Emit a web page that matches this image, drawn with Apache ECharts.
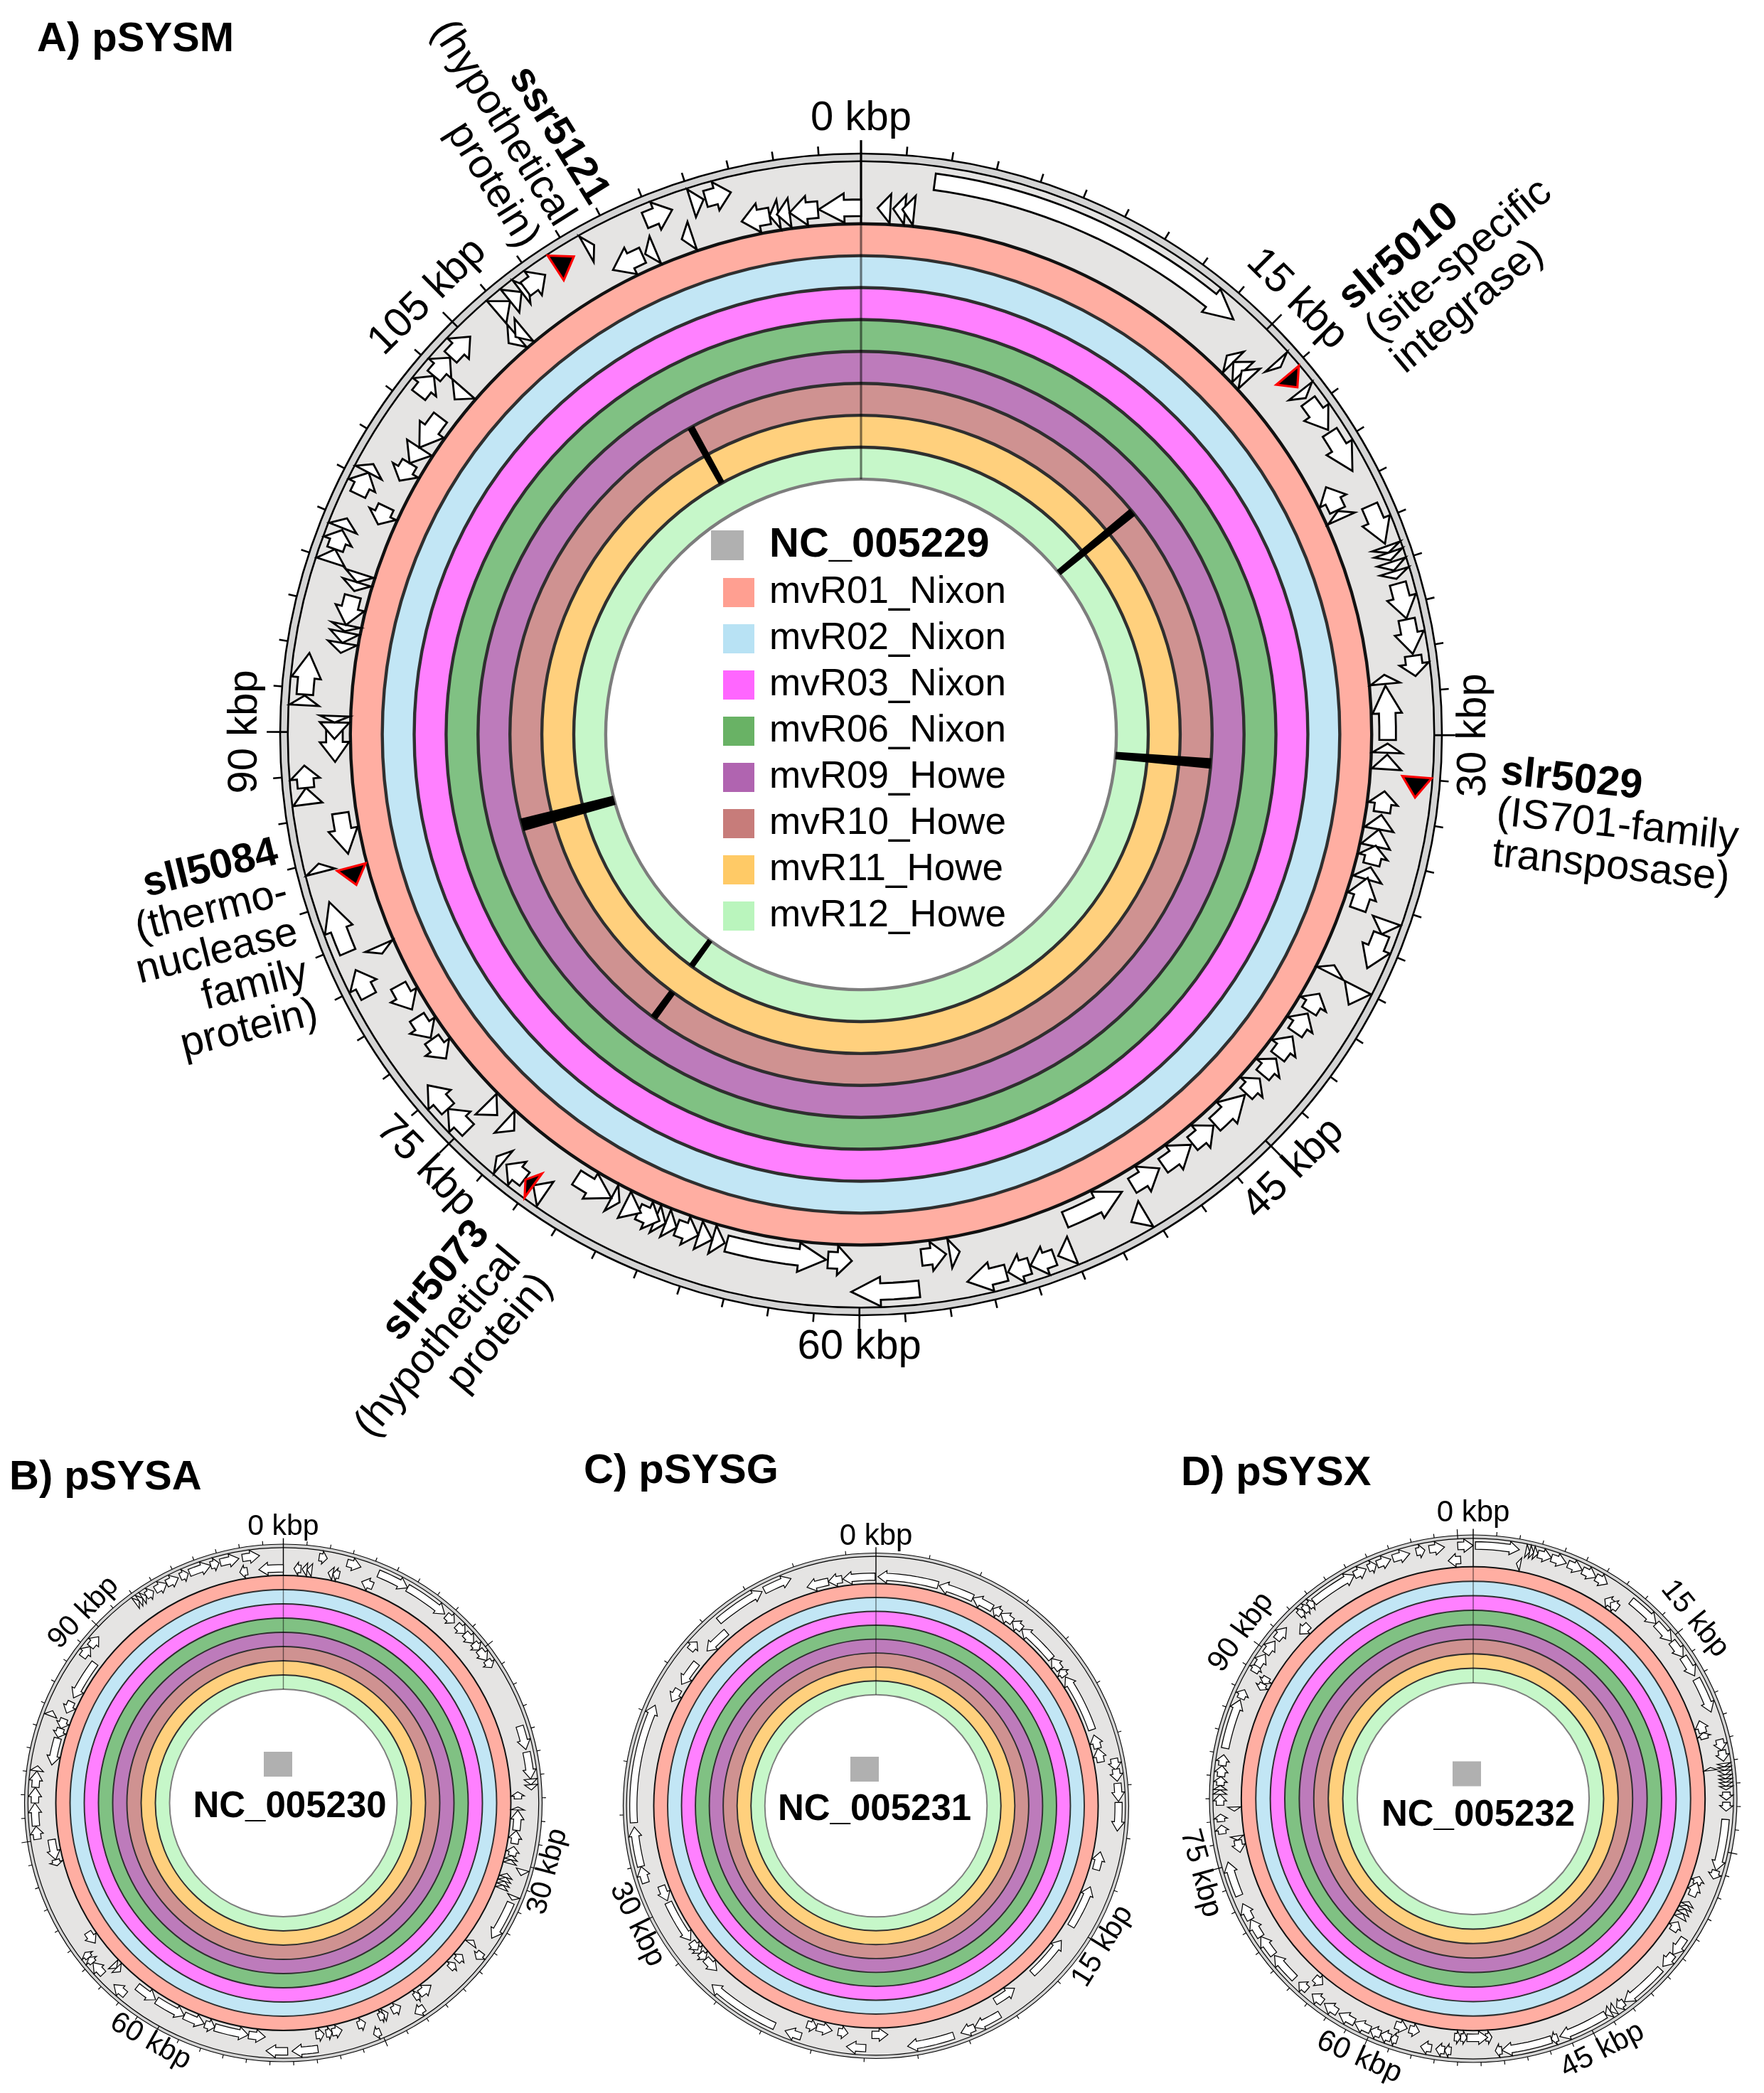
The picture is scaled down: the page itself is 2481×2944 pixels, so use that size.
<!DOCTYPE html>
<html><head><meta charset="utf-8">
<style>html,body{margin:0;padding:0;background:#fff}#c{width:2481px;height:2944px}</style>
<script src="https://cdn.jsdelivr.net/npm/echarts@6/dist/echarts.min.js"></script>
</head><body><div id="c"></div>
<script>
// ---------- data ----------
const ringNames = ['mvR01_Nixon','mvR02_Nixon','mvR03_Nixon','mvR06_Nixon','mvR09_Howe','mvR10_Howe','mvR11_Howe','mvR12_Howe'];
const ringColors = ['#ffaea2','#c2e6f5','#ff80ff','#80c183','#bd7bbb','#cf9291','#ffd07d','#c6f7c9'];
const legendColors = ['#ff9f91','#b8e2f4','#ff66ff','#69b265','#b064b0','#c77c7a','#ffca66','#baf5bd'];

// gene extents, as clockwise positions on the circle in degrees (start, end)
const pSYSM_forward = [[7.6,41.9],[48.1,48.8],[52,52.9],[53.3,56.9],[57.2,61.8],[65.8,70],[70.3,71],[71,71.8],[72,72.9],[73,73.8],[74.3,78],[78.1,81.7],[81.9,84],[109.5,111],[111,114.8],[117,119],[149.3,151],[157.7,159.3],[159.7,162.3],[162.4,164.7],[164.9,169],[174,181],[214.5,216],[217.1,219.5],[219.9,220.8],[224.8,227.8],[227.8,231],[242,245],[247,252.5],[255.7,256.6],[262.8,264.5],[264.5,266.8],[273,274],[274.1,278.4],[288,289.4],[289.4,291.5],[291.7,292.8],[295.5,298],[298,299],[307.5,310],[310,312.5],[312.6,315.5],[319.2,321],[321,322.5],[322.5,323.4],[323,325.5],[330.5,331.4],[337.2,340.2],[342.3,343.6],[343.8,346.5]];
const pSYSM_reverse = [[1.8,3.2],[3.5,4.8],[4.5,5.8],[44,45],[45,46.5],[46.3,47.5],[62,64.8],[64.9,65.8],[83.5,84.5],[84.7,90.6],[91,92],[92.2,93.8],[96.2,98.5],[98.8,100.4],[100.4,102.3],[102.2,104.3],[104.6,106],[105.8,109.4],[116,117],[119.5,121.7],[122,124.5],[125,127.7],[128,130.3],[130.8,133],[133.2,137.8],[138,141],[141.2,145],[145.5,149],[150.3,157.2],[169.2,170.3],[170.7,173.4],[181,183.6],[183.8,194.8],[195,196.4],[196.4,198],[198,200.5],[200.5,201.8],[201.8,203],[202.5,205],[204.7,206.7],[207.3,208.3],[208.3,212.7],[221.2,222.6],[223.7,225.4],[232,234.6],[234.8,237.5],[238.5,241.5],[245.4,246.3],[256.9,261.4],[267,270.6],[269.5,271.3],[271.3,272],[278.9,280],[280,281.2],[281.3,282],[282,285.2],[285.8,286.8],[286.8,287.8],[293.5,295.6],[298.8,301],[301,303],[303,307],[309.5,311],[318,319.2],[319,320.2],[331.9,335.5],[335.8,337],[340.1,341.3],[346.9,350],[350,351],[350.8,352.2],[352.2,355.3],[355.4,360]];
const pSYSM_hitForward = [[49.9,51.5],[94.4,96.5],[216,217],[326.8,329]];
const pSYSM_hitReverse = [[253.4,255.4]];
// deletions: start deg, end deg, inner ring position, outer ring position
const pSYSM_gaps = [[50,51.4,8,11],[93.9,95.6,8,11],[254,256.1,8,11],[215.6,216.8,8,9],[215.6,216.8,10,11],[330.4,331.6,9,11]];

const pSYSA_forward = [[8.3,10.2],[14.9,18.2],[22.5,30],[30,40.5],[41,43.5],[44.3,47],[47,50],[50,52],[52,55],[55,57],[72,77.6],[78.2,84.5],[84.5,85.8],[85.8,87],[105.6,107],[112,113],[113.7,123],[127,129],[145.5,148],[157,158.7],[172,178],[179,184],[219.5,223],[226.5,230],[230,231.5],[231.5,233],[261.6,264.6],[264.7,270],[270,273.6],[273.6,277.4],[277.4,278.6],[290.5,291.8],[306,309],[309,312],[323.5,324.5],[324.5,325.5],[325.5,326.5],[326.5,328.5],[329,332],[332,335],[335.5,337.5],[337.8,343],[343,345],[345.3,349.7],[350.5,354.5]];
const pSYSA_reverse = [[2.6,4.3],[4.6,5.8],[5.8,7],[11,12.2],[12.2,13.8],[19.5,22.4],[87.3,89],[91,91.7],[91.8,96.7],[96.8,100],[100.7,103],[103,104],[104,105],[107.5,108.5],[108.5,109.5],[109.5,110.5],[110.5,111.5],[125.8,127],[130.3,132.3],[133,134.8],[141,144.5],[144.5,146],[150,152.4],[153.5,154.7],[154.5,156],[159.5,161.5],[165.5,168],[168,169.5],[170,172],[184.4,188.5],[188.6,197],[197,199.5],[199.7,205],[205,212.7],[213,218.5],[224,225.3],[225.3,226.5],[233.3,236.5],[254.5,256],[256,261],[279.3,286],[286.2,288.5],[288.5,291],[292.5,295.5],[296.6,306.6],[349.3,351.2],[354,360]];

const pSYSG_forward = [[78.8,81.5],[81.3,84.2],[84.7,89],[89.2,96],[149.3,156],[156,159.5],[161.3,172.5],[182.4,187],[198,202],[204.7,222.5],[251.5,255.5],[255.5,265],[266,294.5],[310,312.5],[319.6,332],[332.6,339.5]];
const pSYSG_reverse = [[0.5,15.7],[16,25],[25,30.5],[30.7,33],[33,36.5],[36.5,39.5],[39.5,50],[50,53.5],[53.5,55.5],[55.8,70.6],[72,75.5],[75.5,79],[101.6,106.2],[110.7,121.7],[126,137],[142.8,148.7],[177,181],[187,189.5],[191,195],[195,197.5],[224,228],[228,230],[230,232],[231,233.5],[234,245],[245.5,249.5],[297,300.5],[302,308.5],[312.5,319.3],[342.5,348],[348,351.5],[351.7,359.8]];

const pSYSX_forward = [[356.5,360],[0.5,10.5],[12,12.9],[12.9,13.8],[13.8,14.8],[14.8,18],[18,21.6],[22,25.5],[25.6,29],[29,32],[38.6,46.2],[46.3,51.5],[51.7,56],[56,61],[61.8,70],[76.5,79],[79,81.5],[82,82.8],[82.8,83.6],[83.6,84.6],[84.6,85.5],[85.5,86.3],[86.3,87.2],[87.2,88],[88.5,90.3],[90.8,92.8],[94.7,106.5],[106.5,108.5],[123.5,128],[128,131.5],[132.3,143.3],[143.5,145.5],[146,147.2],[147.2,148.5],[148.5,160],[160.5,162],[162,173.5],[173.5,175],[185,186.5],[186.5,188.5],[189.5,192],[197.5,199],[199,201.5],[201.5,204],[204,208],[208,212],[212.5,216],[216.5,219.5],[221,223.5],[224.8,231.7],[232,237],[237,241.5],[241.5,245.5],[247.5,255.5],[262,264],[264.8,266.5],[268.5,271],[271,272],[272,273],[273,275],[275,277.5],[277.5,280],[281.5,293],[293.3,295.5],[300,302],[301.5,304.8],[305,308.5],[309,312.5],[316.5,318],[318,319.5],[319.5,321],[321,332],[332,335],[335.5,337.5],[337.7,341],[341.5,345.5],[347,349],[350,353.5]];
const pSYSX_reverse = [[10.4,11.4],[33.4,35.6],[35,37.2],[71,74],[74,75.5],[82.5,83.2],[109,111],[110.5,114],[115.5,116.5],[116.5,117.5],[117.5,118.7],[118.7,120],[121,123.5],[175.5,177],[176.5,181.5],[181.5,183],[183,184.5],[193,195.5],[196,199],[219,221.5],[257,260],[260,261],[267,268],[297,298.7],[298.7,300.5],[313.5,316.5],[354,357]];

const pSYSM_tickLabels = [0,15,30,45,60,75,90,105];
const pSYSA_tickLabels = [0,30,60,90];
const pSYSG_tickLabels = [0,15,30];
const pSYSX_tickLabels = [0,15,45,60,75,90];

// gene callouts on the main circle
const calloutGenes = ['slr5010','slr5029','sll5084','slr5073','ssr5121'];
const calloutProducts = [['(site-specific','integrase)'],['(IS701-family','transposase)'],['(thermo-','nuclease','family','protein)'],['(hypothetical','protein)'],['(hypothetical','protein)']];
const calloutAngles = [51.6,96.9,251.3,214.8,329.6];
const calloutRadii = [23.9,23.87,21.3,23.2,22.2];
const calloutTilt = [40,-6,14,50,-58];
const calloutAlign = ['left','left','right','right','right'];

// ---------- panels ----------
const FONT = '"Liberation Sans", Arial, Helvetica, sans-serif';
const panels = [
 {title:'A) pSYSM',acc:'NC_005229',L:119.895,cx:1211,cy:1033,R:817,head:3,tickFont:58,tickR:19.25,ticks:pSYSM_tickLabels,fwd:pSYSM_forward,rev:pSYSM_reverse,hitF:pSYSM_hitForward,hitR:pSYSM_hitReverse,gaps:pSYSM_gaps},
 {title:'B) pSYSA',acc:'NC_005230',L:103.307,cx:398.5,cy:2536,R:364,head:2.2,tickFont:41,tickR:19.3,ticks:pSYSA_tickLabels,fwd:pSYSA_forward,rev:pSYSA_reverse,hitF:[],hitR:[],gaps:[]},
 {title:'C) pSYSG',acc:'NC_005231',L:44.343,cx:1232,cy:2540,R:355.5,head:2.2,tickFont:42,tickR:19.3,ticks:pSYSG_tickLabels,fwd:pSYSG_forward,rev:pSYSG_reverse,hitF:[],hitR:[],gaps:[]},
 {title:'D) pSYSX',acc:'NC_005232',L:106.004,cx:2072,cy:2530,R:371,head:2.2,tickFont:42,tickR:19.6,ticks:pSYSX_tickLabels,fwd:pSYSX_forward,rev:pSYSX_reverse,hitF:[],hitR:[],gaps:[]}
];
const AXIS_MAX = 26, TRACK_RIM = 18.2;

const polar = [], radiusAxis = [], angleAxis = [], series = [];

panels.forEach((p, pi) => {
  const unit = p.R / TRACK_RIM;
  const lw = unit / 44.9;
  const toKb = d => d / 360 * p.L;
  polar.push({center:[p.cx, p.cy], radius:[0, unit * AXIS_MAX]});
  radiusAxis.push({polarIndex:pi, type:'value', min:0, max:AXIS_MAX, show:false});
  angleAxis.push({polarIndex:pi, type:'value', min:0, max:p.L, startAngle:90, clockwise:true, show:false});
  const base = {type:'custom', coordinateSystem:'polar', polarIndex:pi, silent:true, animation:false, encode:{radius:0, angle:1}};
  const rad = (api, params, r) => { const q = api.coord([r, 0]); return Math.hypot(q[0]-params.coordSys.cx, q[1]-params.coordSys.cy); };
  const full = {startAngle:0, endAngle:Math.PI*2};

  // gene track background + rim
  series.push(Object.assign({}, base, {name:'track', data:[[16, 17.96, TRACK_RIM]],
    renderItem:(params, api) => {
      const cx = params.coordSys.cx, cy = params.coordSys.cy;
      const a = rad(api, params, api.value(0)), b = rad(api, params, api.value(1)), c = rad(api, params, api.value(2));
      return {type:'group', children:[
        {type:'sector', shape:Object.assign({cx, cy, r:c, r0:b}, full), style:{fill:'#d4d4d4', stroke:null}},
        {type:'sector', shape:Object.assign({cx, cy, r:b, r0:a}, full), style:{fill:'#e5e4e3', stroke:null}},
        {type:'circle', shape:{cx, cy, r:c}, style:{fill:null, stroke:'#000', lineWidth:2.6*lw}},
        {type:'circle', shape:{cx, cy, r:b}, style:{fill:null, stroke:'#000', lineWidth:2.6*lw}}
      ]};
    }}));

  // coverage rings
  ringNames.forEach((name, i) => {
    series.push(Object.assign({}, base, {name, itemStyle:{color:ringColors[i]}, data:[[15-i, 16-i]],
      renderItem:(params, api) => {
        const cx = params.coordSys.cx, cy = params.coordSys.cy;
        const r0 = rad(api, params, api.value(0)), r = rad(api, params, api.value(1));
        const kids = [
          {type:'sector', shape:Object.assign({cx, cy, r, r0}, full), style:{fill:ringColors[i], stroke:null}},
          {type:'circle', shape:{cx, cy, r}, style:{fill:null, stroke: i===0 ? '#111' : '#2f2f2f', lineWidth:4.4*lw}}
        ];
        if (i === ringNames.length-1) kids.push({type:'circle', shape:{cx, cy, r:r0}, style:{fill:null, stroke:'#7d7d7d', lineWidth:4.4*lw}});
        return {type:'group', children:kids};
      }}));
  });

  // deletions
  if (p.gaps.length) series.push(Object.assign({}, base, {name:'gaps', data:p.gaps.map(g => [g[2], toKb(g[0]), toKb(g[1]), g[3]]),
    renderItem:(params, api) => {
      const i0 = api.value(0), i1 = api.value(3), a = api.value(1), b = api.value(2);
      return {type:'polygon', shape:{points:[api.coord([i0,a]), api.coord([i1,a]), api.coord([i1,b]), api.coord([i0,b])]}, style:{fill:'#000', stroke:null}};
    }}));

  // origin line, named after the reference sequence
  series.push(Object.assign({}, base, {name:p.acc, itemStyle:{color:'#b0b0b0'}, data:[[8,16,0.5],[16,18.62,1]],
    renderItem:(params, api) => ({type:'line', shape:(() => {
        const s = api.coord([api.value(0),0]), e = api.coord([api.value(1),0]);
        return {x1:s[0], y1:s[1], x2:e[0], y2:e[1]};
      })(), style:{stroke:'#000', opacity:api.value(2), lineWidth:3.2*lw}})}));

  // ticks every 1.5 kbp, longer every 15 kbp
  const tickPos = [];
  for (let k = 1.5; k < p.L; k += 1.5) tickPos.push([Math.abs(k/15 - Math.round(k/15)) < 1e-6 ? 1 : 0, +k.toFixed(3)]);
  series.push(Object.assign({}, base, {name:'ticks', data:tickPos,
    renderItem:(params, api) => {
      const major = api.value(0), k = api.value(1);
      const s = api.coord([major ? 17.96 : TRACK_RIM, k]), e = api.coord([major ? 18.62 : TRACK_RIM+0.27, k]);
      return {type:'line', shape:{x1:s[0], y1:s[1], x2:e[0], y2:e[1]}, style:{stroke:'#000', lineWidth:2.6*lw}};
    }}));

  // genes
  const makeGenes = (list, lane, dirn, fill, stroke, width, nm, triangleOnly) => {
    if (!list.length) return;
    series.push(Object.assign({}, base, {name:nm, data:list.map(g => [lane, toKb(g[0]), toKb(g[1]), dirn]),
      renderItem:(params, api) => {
        const rc = api.value(0), a0 = api.value(1), a1 = api.value(2), d = api.value(3);
        const tail = d > 0 ? a0 : a1, tip = d > 0 ? a1 : a0;
        const len = Math.abs(a1-a0), maxHead = toKb(p.head);
        const hw = 0.46, bw = 0.26;
        const pts = [];
        if (triangleOnly || len <= maxHead * 0.67) {
          pts.push(api.coord([rc+hw, tail]), api.coord([rc, tip]), api.coord([rc-hw, tail]));
        } else {
          const headLen = Math.min(maxHead, len * 0.6);
          const base_ = tip - d*headLen, n = Math.max(1, Math.ceil((len-headLen)/toKb(1.5)));
          for (let j = 0; j <= n; j++) pts.push(api.coord([rc+bw, tail + (base_-tail)*j/n]));
          pts.push(api.coord([rc+hw, base_]), api.coord([rc, tip]), api.coord([rc-hw, base_]));
          for (let j = n; j >= 0; j--) pts.push(api.coord([rc-bw, tail + (base_-tail)*j/n]));
        }
        return {type:'polygon', shape:{points:pts}, style:{fill, stroke, lineWidth:width*lw, lineJoin:'miter'}};
      }}));
  };
  makeGenes(p.rev, 16.5, -1, '#fff', '#000', 2.8, 'genes reverse', false);
  makeGenes(p.fwd, 17.47, 1, '#fff', '#000', 2.8, 'genes forward', false);
  makeGenes(p.hitR, 16.5, -1, '#000', '#ff0000', 3.2, 'marked reverse', true);
  makeGenes(p.hitF, 17.47, 1, '#000', '#ff0000', 3.2, 'marked forward', true);

  // kbp tick labels
  series.push({type:'scatter', coordinateSystem:'polar', polarIndex:pi, silent:true, animation:false, symbolSize:0, name:'tick labels', itemStyle:{opacity:1},
    data:p.ticks.map(k => {
      const a = k / p.L * 360;
      const rot = a < 90 ? -a : (a < 270 ? 180 - a : 360 - a);
      return {value:[p.tickR, k], label:{show:true, position:'inside', offset:[0,-2], formatter:k+' kbp', rotate:rot, fontSize:p.tickFont, fontFamily:FONT, color:'#000', align:'center', verticalAlign:'middle'}};
    })});

  // callouts
  if (pi === 0) series.push({type:'scatter', coordinateSystem:'polar', polarIndex:pi, silent:true, animation:false, symbolSize:0, name:'callouts', itemStyle:{opacity:1},
    data:calloutGenes.map((g, i) => ({value:[calloutRadii[i], toKb(calloutAngles[i])],
      label:{show:true, position:'inside', rotate:calloutTilt[i], align:'center', verticalAlign:'middle',
        formatter:['{b|'+g+'}'].concat(calloutProducts[i].map(t => '{r|'+t+'}')).join('\n'),
        rich:{b:{fontSize:58, fontWeight:'bold', fontFamily:FONT, color:'#000', lineHeight:58, align:calloutAlign[i]},
              r:{fontSize:58, fontFamily:FONT, color:'#000', lineHeight:58, align:calloutAlign[i]}}}}))});
});

const titles = [
  {text:'A) pSYSM', left:52, top:27},
  {text:'B) pSYSA', left:13, top:2050},
  {text:'C) pSYSG', left:821, top:2041},
  {text:'D) pSYSX', left:1661, top:2044}
].map(t => Object.assign(t, {padding:0, textStyle:{fontSize:58, fontWeight:'bold', fontFamily:FONT, color:'#000'}}));
const accLabels = [
  {text:'NC_005230', left:407.5, top:2516, fs:51},
  {text:'NC_005231', left:1230, top:2520, fs:51},
  {text:'NC_005232', left:2079, top:2528, fs:51}
].map(t => ({text:t.text, left:t.left, top:t.top, textAlign:'center', padding:0, textStyle:{fontSize:t.fs, fontWeight:'bold', fontFamily:FONT, color:'#000'}}));

const accSquares = [[371,2464],[1196,2471],[2043,2477.5]];

const chart = echarts.init(document.getElementById('c'), null, {renderer:'canvas', width:2481, height:2944});
chart.setOption({
  animation:false, backgroundColor:'#fff',
  title:titles.concat(accLabels),
  polar, radiusAxis, angleAxis, series,
  legend:[
    {left:1000, top:738, padding:0, orient:'vertical', selectedMode:false, itemWidth:46, itemHeight:42,
     data:[{name:'NC_005229', icon:'rect', itemStyle:{color:'#b0b0b0', borderWidth:0}}],
     textStyle:{fontSize:58, fontWeight:'bold', fontFamily:FONT, color:'#000', padding:[0,0,0,31]}},
    {left:1017, top:807, padding:0, orient:'vertical', selectedMode:false, itemWidth:44, itemHeight:41, itemGap:12,
     data:ringNames.map((n, i) => ({name:n, icon:'rect', itemStyle:{color:legendColors[i], borderWidth:0}})),
     textStyle:{fontSize:53, fontFamily:FONT, color:'#000', padding:[0,0,0,16]}}
  ],
  graphic:accSquares.map(s => ({type:'rect', left:s[0], top:s[1], shape:{width:40, height:35}, style:{fill:'#b0b0b0'}, z:10}))
});
</script></body></html>
